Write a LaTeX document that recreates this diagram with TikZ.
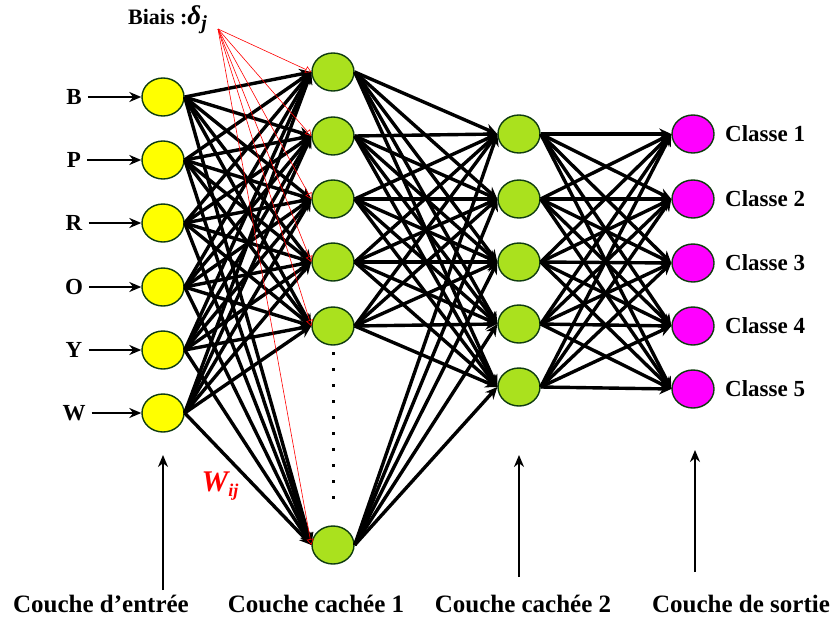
\documentclass[tikz,border=0pt]{standalone}
\usepackage{fontspec}
\setmainfont[Ligatures=ResetAll]{Liberation Serif}
\usetikzlibrary{arrows.meta,shapes.geometric}
\definecolor{inyellow}{RGB}{255,255,0}
\definecolor{hidgreen}{RGB}{170,225,30}
\definecolor{outmag}{RGB}{255,0,255}
\definecolor{rimgreen}{RGB}{15,60,15}
\begin{document}
\begin{tikzpicture}[x=1pt,y=-1pt,
  neuron/.style={ellipse,draw=rimgreen,line width=1.4pt,minimum width=42pt,minimum height=38pt,inner sep=0pt},
  inneuron/.style={neuron,fill=inyellow},
  hidneuron/.style={neuron,fill=hidgreen},
  outneuron/.style={neuron,fill=outmag},
  edge/.style={line width=3.4pt,-{Stealth[length=12pt,width=11pt]}},
  biasline/.style={red,line width=0.6pt,-{Triangle[open,length=6pt,width=7pt]}},
  feed/.style={line width=2pt,-{Stealth[length=12pt,width=10pt]}},
  lbl/.style={font=\bfseries\fontsize{23}{25}\selectfont,inner sep=0pt},
  layerlbl/.style={font=\bfseries\fontsize{25}{27}\selectfont,inner sep=0pt}]
\useasboundingbox (0,0) rectangle (832,618);

% input layer
\foreach \n/\y/\t in {1/97/B,2/160/P,3/223/R,4/287/O,5/350/Y,6/413/W}{
  \node[inneuron] (a\n) at (163,\y) {};
  \node[lbl] (ta\n) at (74,\y) {\t};
  \draw[feed] (ta\n.east) ++(6,0) coordinate (sa\n) -- (a\n.west);
}
% hidden layer 1
\foreach \n/\y in {1/72,2/136,3/199,4/262,5/326,6/545}{
  \node[hidneuron] (b\n) at (333,\y) {};
}
% hidden layer 2
\foreach \n/\y in {1/134,2/199,3/262,4/324,5/387}{
  \node[hidneuron] (c\n) at (519,\y) {};
}
% output layer
\foreach \n/\y in {1/134,2/199,3/263,4/326,5/389}{
  \node[outneuron] (d\n) at (693,\y) {};
  \node[lbl,anchor=west] (td\n) at (725,\y) {Classe \n};
}

% weighted connections
\foreach \i in {1,...,6}{\foreach \j in {1,...,6}{\draw[edge] (a\i.east) -- (b\j.west);}}
\foreach \i in {1,...,6}{\foreach \j in {1,...,5}{\draw[edge] (b\i.east) -- (c\j.west);}}
\foreach \i in {1,...,5}{\foreach \j in {1,...,5}{\draw[edge] (c\i.east) -- (d\j.west);}}

% bias
\node[anchor=base west,font=\bfseries\fontsize{22}{24}\selectfont,inner sep=0pt] (biais) at (128,25)
  {Biais :{\itshape\fontsize{27}{28}\selectfont δ\raisebox{-0.35ex}{\fontsize{20}{21}\selectfont j}}};
\coordinate (bsrc) at (218,29);
\foreach \j in {1,...,6}{\draw[biasline] (bsrc) -- (b\j.west);}

% omitted neurons
\draw[line width=3pt,dash pattern=on 3pt off 13pt] (333,352) -- (333,512);

% weights label
\node[text=red,font=\bfseries\itshape\fontsize{30}{32}\selectfont,inner sep=0pt] (wij) at (220,486)
  {W\raisebox{-0.35ex}{\fontsize{18}{19}\selectfont ij}};

% layer labels and arrows
\node[layerlbl] (l1) at (101,604) {Couche d'entrée};
\node[layerlbl] (l2) at (316,604) {Couche cachée 1};
\node[layerlbl] (l3) at (523,604) {Couche cachée 2};
\node[layerlbl] (l4) at (741,604) {Couche de sortie};
\coordinate (p1) at (163,590);
\coordinate (p3) at (519,577);
\coordinate (p4) at (695,572);
\draw[feed] (p1) -- (163,455);
\draw[feed] (p3) -- (519,455);
\draw[feed] (p4) -- (695,450);
\end{tikzpicture}
\end{document}
